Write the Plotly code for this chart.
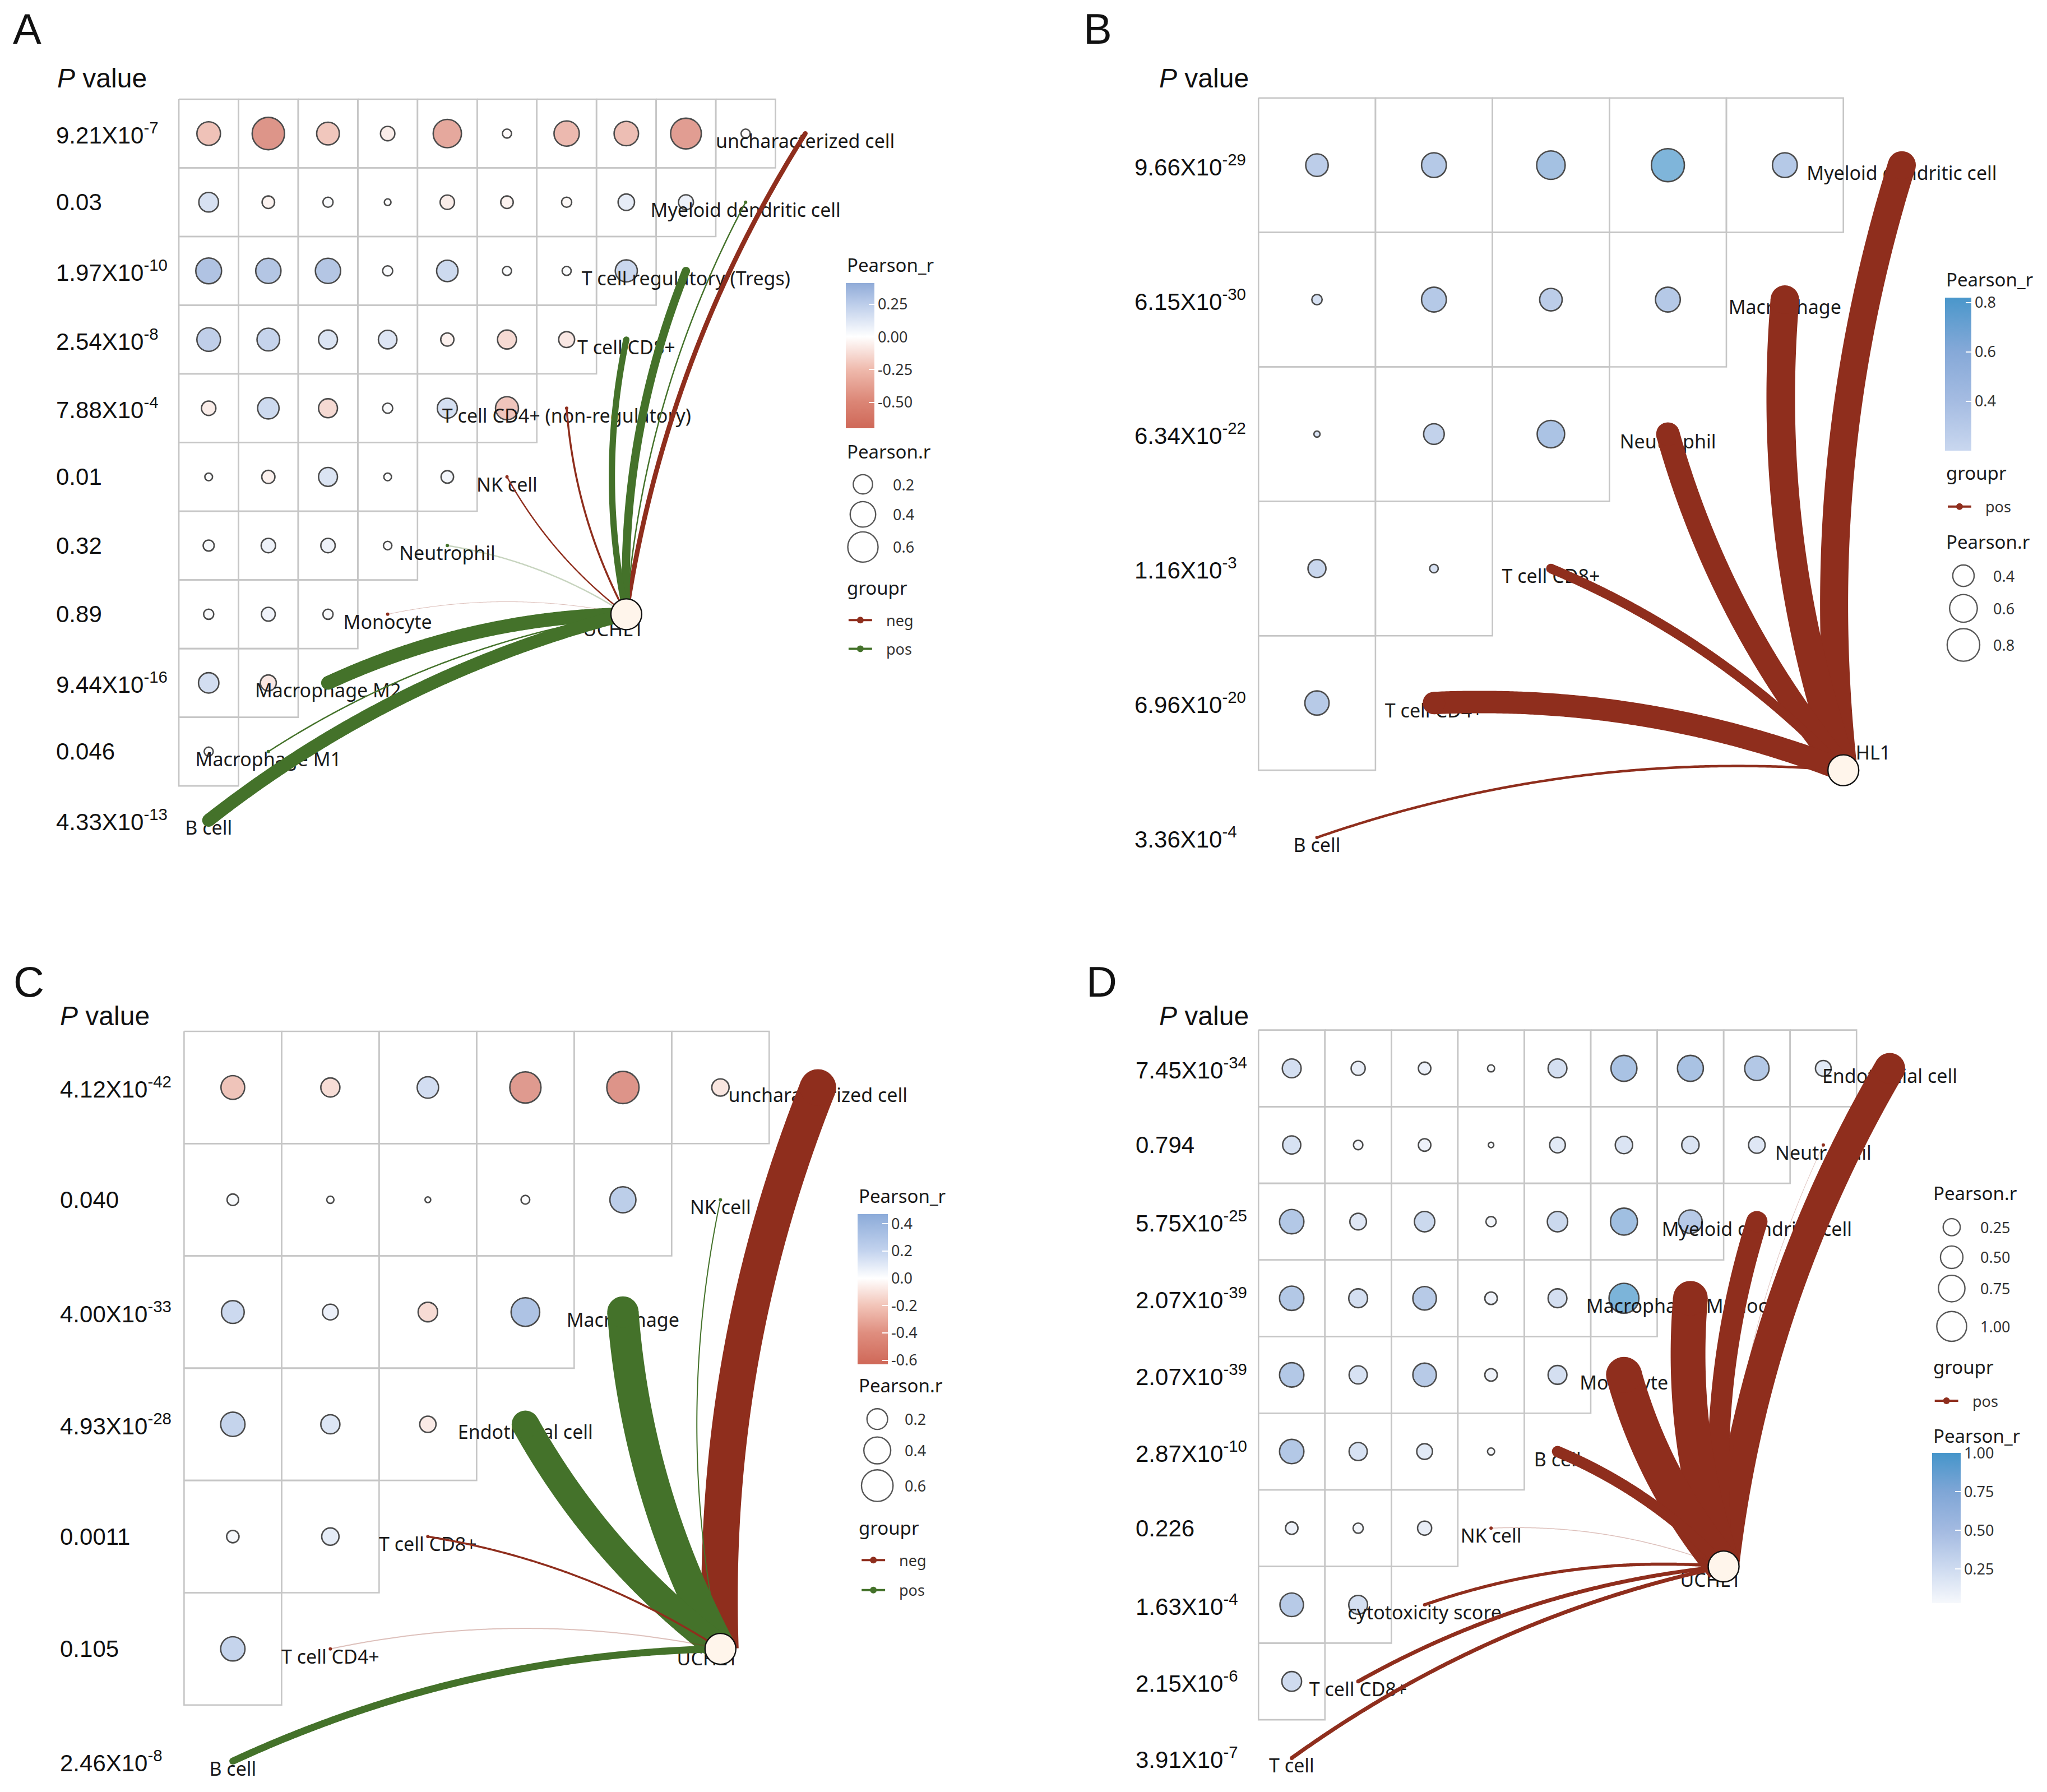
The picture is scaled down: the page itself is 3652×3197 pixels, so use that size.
import numpy as np
import plotly.graph_objects as go

# ======================= DATA =======================
# Panel A
A_cells = ["uncharacterized cell", "Myeloid dendritic cell", "T cell regulatory (Tregs)", "T cell CD8+",
           "T cell CD4+ (non-regulatory)", "NK cell", "Neutrophil", "Monocyte", "Macrophage M2",
           "Macrophage M1", "B cell"]
A_pvalues = ["9.21X10^-7", "0.03", "1.97X10^-10", "2.54X10^-8", "7.88X10^-4", "0.01", "0.32", "0.89",
             "9.44X10^-16", "0.046", "4.33X10^-13"]
A_link_r = [-0.12, 0.035, 0.21, 0.16, -0.05, -0.035, 0.035, -0.015, 0.35, 0.035, 0.33]
A_corr = [
    [-0.33, -0.70, -0.30, -0.09, -0.51, -0.02, -0.39, -0.36, -0.62, -0.02],
    [0.21, -0.06, 0.03, 0.005, -0.09, -0.06, -0.03, 0.13, 0.10],
    [0.41, 0.39, 0.39, 0.03, 0.26, 0.02, 0.02, 0.28],
    [0.33, 0.30, 0.19, 0.18, -0.07, -0.19, -0.12],
    [-0.09, 0.26, -0.19, 0.03, 0.22, -0.31],
    [0.01, -0.07, 0.19, 0.01, 0.06],
    [0.04, 0.09, 0.09, 0.015],
    [0.03, 0.08, 0.03],
    [0.23, -0.12],
    [0.02],
]
A_size_breaks = [0.2, 0.4, 0.6]
A_size_labels = ["0.2", "0.4", "0.6"]
A_cbar_ticks = [-0.5, -0.25, 0.0, 0.25]
A_cbar_labels = ["-0.50", "-0.25", "0.00", "0.25"]

# Panel B
B_cells = ["Myeloid dendritic cell", "Macrophage", "Neutrophil", "T cell CD8+", "T cell CD4+", "B cell"]
B_pvalues = ["9.66X10^-29", "6.15X10^-30", "6.34X10^-22", "1.16X10^-3", "6.96X10^-20", "3.36X10^-4"]
B_link_r = [0.50, 0.51, 0.42, 0.17, 0.40, 0.045]
B_corr = [
    [0.43, 0.50, 0.63, 0.82, 0.50],
    [0.215, 0.50, 0.43, 0.50],
    [0.20, 0.38, 0.59],
    [0.32, 0.205],
    [0.48],
]
B_size_breaks = [0.4, 0.6, 0.8]
B_size_labels = ["0.4", "0.6", "0.8"]
B_cbar_ticks = [0.4, 0.6, 0.8]
B_cbar_labels = ["0.4", "0.6", "0.8"]

# Panel C
C_cells = ["uncharacterized cell", "NK cell", "Macrophage", "Endothelial cell", "T cell CD8+",
           "T cell CD4+", "B cell"]
C_pvalues = ["4.12X10^-42", "0.040", "4.00X10^-33", "4.93X10^-28", "0.0011", "0.105", "2.46X10^-8"]
C_link_r = [-0.65, 0.02, 0.56, 0.49, -0.035, -0.02, 0.125]
C_corr = [
    [-0.29, -0.16, 0.22, -0.58, -0.63, -0.12],
    [0.03, 0.002, 0.0, 0.008, 0.37],
    [0.26, 0.09, -0.17, 0.47],
    [0.31, 0.16, -0.10],
    [0.04, 0.12],
    [0.31],
]
C_size_breaks = [0.2, 0.4, 0.6]
C_size_labels = ["0.2", "0.4", "0.6"]
C_cbar_ticks = [-0.6, -0.4, -0.2, 0.0, 0.2, 0.4]
C_cbar_labels = ["-0.6", "-0.4", "-0.2", "0.0", "0.2", "0.4"]

# Panel D
D_cells = ["Endothelial cell", "Neutrophil", "Myeloid dendritic cell", "Macrophage/Monocyte", "Monocyte",
           "B cell", "NK cell", "cytotoxicity score", "T cell CD8+", "T cell"]
D_pvalues = ["7.45X10^-34", "0.794", "5.75X10^-25", "2.07X10^-39", "2.07X10^-39", "2.87X10^-10",
             "0.226", "1.63X10^-4", "2.15X10^-6", "3.91X10^-7"]
D_link_r = [0.55, 0.01, 0.38, 0.62, 0.64, 0.20, 0.015, 0.055, 0.07, 0.07]
D_corr = [
    [0.32, 0.15, 0.11, 0.034, 0.32, 0.71, 0.71, 0.61, 0.20],
    [0.29, 0.055, 0.11, 0.03, 0.20, 0.26, 0.26, 0.23],
    [0.61, 0.23, 0.39, 0.066, 0.39, 0.78, 0.56],
    [0.61, 0.32, 0.56, 0.11, 0.32, 1.00],
    [0.61, 0.29, 0.56, 0.11, 0.32],
    [0.61, 0.29, 0.20, 0.034],
    [0.11, 0.066, 0.15],
    [0.56, 0.32],
    [0.36],
]
D_size_breaks = [0.25, 0.50, 0.75, 1.00]
D_size_labels = ["0.25", "0.50", "0.75", "1.00"]
D_cbar_ticks = [0.25, 0.50, 0.75, 1.00]
D_cbar_labels = ["0.25", "0.50", "0.75", "1.00"]

GENE = "UCHL1"
GROUP_LEVELS = ["neg", "pos"]

# ======================= LAYOUT / STYLE =======================
WIN_W, WIN_H = 3652, 3197
OFF = 8                      # default page margin of the html body
FIG_W, FIG_H = WIN_W - 2 * OFF, WIN_H - 2 * OFF
REF_W, REF_H = 1568.0, 1372.0
U = WIN_W / REF_W
RED, GREEN = "#8F2E1D", "#44722A"
GROUP_COLORS = [RED, GREEN]
LABEL_FONT = "Noto Sans"
ARIAL = "Liberation Sans"
GRID_COLOR = "#C6C6C6"

PANELS = [
    dict(cells=A_cells, pvals=A_pvalues, link_r=A_link_r, corr=A_corr,
         size_breaks=A_size_breaks, size_labels=A_size_labels, cbar_ticks=A_cbar_ticks, cbar_labels=A_cbar_labels,
         letter=("A", 21, 21), ptitle=(43, 60), pval_x=42,
         left=137, top=76, cw=45.7, ch=52.6, hub=(7.5, 7.5), hub_lab=(-10, 13),
         xr=(-1, 12.2), yr=(-1, 11.4), size_scale=(0.0, 1.0, 7.7, 67.5), link_k=70,
         stops=[(-0.70, "#CF6858"), (-0.5, "#DB8575"), (-0.25, "#EFBAAD"), (0.0, "#FFFFFF"),
                (0.25, "#BCCDEA"), (0.41, "#90ABD8")],
         cbar=(648, 217, 328, 22),
         titles=[("Pearson_r", 648, 203), ("Pearson.r", 648, 346), ("groupr", 648, 450)],
         size_leg=(661, [371, 394, 419], 683), group_leg=(650, 668, [475, 497], 678)),
    dict(cells=B_cells, pvals=B_pvalues, link_r=B_link_r, corr=B_corr,
         size_breaks=B_size_breaks, size_labels=B_size_labels, cbar_ticks=B_cbar_ticks, cbar_labels=B_cbar_labels,
         letter=("B", 841, 21), ptitle=(887, 60), pval_x=868,
         left=964, top=75, cw=89.6, ch=103, hub=(5.0, 5.0), hub_lab=(13, -12),
         xr=(-1, 6.3), yr=(-0.5, 6.1), size_scale=(0.2, 0.82, 10.9, 58.9), link_k=100,
         stops=[(0.2, "#C9D7EF"), (0.4, "#A5BCE2"), (0.6, "#86A9D8"), (0.82, "#4A97CB")],
         cbar=(1490, 228, 345, 20),
         titles=[("Pearson_r", 1490, 214), ("groupr", 1490, 362), ("Pearson.r", 1490, 415)],
         size_leg=(1504, [441, 466, 494], 1526), group_leg=(1492, 1510, [388], 1520)),
    dict(cells=C_cells, pvals=C_pvalues, link_r=C_link_r, corr=C_corr,
         size_breaks=C_size_breaks, size_labels=C_size_labels, cbar_ticks=C_cbar_ticks, cbar_labels=C_cbar_labels,
         letter=("C", 22, 752), ptitle=(45, 778), pval_x=45,
         left=141, top=790, cw=74.7, ch=86, hub=(5.5, 5.5), hub_lab=(-10, 9),
         xr=(-1, 7.2), yr=(-0.4, 6.7), size_scale=(0.0, 1.0, 10.2, 69.8), link_k=100,
         stops=[(-0.63, "#CF6858"), (-0.4, "#DF8E7F"), (-0.2, "#F2C4B8"), (0.0, "#FFFFFF"),
                (0.2, "#C3D3EE"), (0.47, "#8CABD9")],
         cbar=(657, 930, 1045, 23),
         titles=[("Pearson_r", 657, 916), ("Pearson.r", 657, 1061), ("groupr", 657, 1170)],
         size_leg=(672, [1087, 1111, 1138], 692), group_leg=(660, 678, [1195, 1218], 688)),
    dict(cells=D_cells, pvals=D_pvalues, link_r=D_link_r, corr=D_corr,
         size_breaks=D_size_breaks, size_labels=D_size_labels, cbar_ticks=D_cbar_ticks, cbar_labels=D_cbar_labels,
         letter=("D", 844, 752), ptitle=(887, 778), pval_x=869,
         left=964, top=789, cw=50.9, ch=58.7, hub=(7.0, 7.0), hub_lab=(-10, 12),
         xr=(-1, 10.5), yr=(-0.4, 9.85), size_scale=(0.03, 1.0, 9.8, 53.3), link_k=100,
         stops=[(0.03, "#F6F8FC"), (0.25, "#CEDBF0"), (0.5, "#A3BAE1"), (0.75, "#7FA6D6"), (1.0, "#4595CA")],
         cbar=(1480, 1113, 1228, 22),
         titles=[("Pearson.r", 1480, 914), ("groupr", 1480, 1047), ("Pearson_r", 1480, 1100)],
         size_leg=(1495, [940, 963, 987, 1016], 1516), group_leg=(1482, 1500, [1073], 1510)),
]
LABEL_DROP = 7.5   # node labels sit slightly below their node (reference units)


# ======================= HELPERS =======================
def hex_rgb(h):
    h = h.lstrip("#")
    return np.array([int(h[i:i + 2], 16) for i in (0, 2, 4)], dtype=float)


def interp_color(stops, v):
    vals = [s[0] for s in stops]
    cols = np.array([hex_rgb(s[1]) for s in stops])
    rgb = [np.interp(v, vals, cols[:, c]) for c in range(3)]
    return "rgb(%d,%d,%d)" % tuple(int(round(x)) for x in rgb)


def build_colorscale(stops, cmin, cmax):
    pts = [cmin] + [s[0] for s in stops if cmin < s[0] < cmax] + [cmax]
    return [[(p - cmin) / (cmax - cmin), interp_color(stops, p)] for p in pts]


def diam(r, sc):
    rmin, rmax, dmin, dmax = sc
    t = np.clip((abs(r) - rmin) / (rmax - rmin), 0, 1)
    return float(dmin + (dmax - dmin) * np.sqrt(t))


def rgba(hexc, a):
    r, g, b = hex_rgb(hexc)
    return "rgba(%d,%d,%d,%.3f)" % (r, g, b, a)


def parse_p(s):
    if "X10^" in s:
        m, e = s.split("X10^")
        return float(m) * 10 ** float(e), "%sX10<sup>%s</sup>" % (m, e)
    return float(s), s


def curve(p0, p1, cwp, chp, k=0.105, n=200):
    P0 = np.array([p0[0] * cwp, p0[1] * chp])
    P1 = np.array([p1[0] * cwp, p1[1] * chp])
    d = P1 - P0
    L = np.hypot(*d)
    nrm = np.array([d[1], -d[0]]) / L
    if nrm @ np.array([-1.0, -1.0]) < 0:
        nrm = -nrm
    C = (P0 + P1) / 2 + k * L * nrm
    t = np.linspace(0, 1, n)[:, None]
    pts = (1 - t) ** 2 * P0 + 2 * t * (1 - t) * C + t ** 2 * P1
    return (pts[:, 0] / cwp).tolist(), (pts[:, 1] / chp).tolist()


def px(x):
    return min(1.0, max(0.0, (x * U - OFF) / FIG_W))


def py(y):
    return min(1.0, max(0.0, 1 - (y * U - OFF) / FIG_H))


# ======================= BUILD =======================
fig = go.Figure()
layout = dict(width=FIG_W, height=FIG_H, autosize=False, margin=dict(l=0, r=0, t=0, b=0),
              paper_bgcolor="white", plot_bgcolor="rgba(0,0,0,0)", showlegend=False)
annotations = []

for k, P in enumerate(PANELS, start=1):
    xa = "x" if k == 1 else "x%d" % k
    ya = "y" if k == 1 else "y%d" % k
    xkey = "xaxis" if k == 1 else "xaxis%d" % k
    ykey = "yaxis" if k == 1 else "yaxis%d" % k
    cakey = "coloraxis" if k == 1 else "coloraxis%d" % k
    left, top, cw, ch = P["left"], P["top"], P["cw"], P["ch"]
    cwp, chp = cw * U, ch * U
    x0, x1 = P["xr"]
    y0, y1 = P["yr"]
    layout[xkey] = dict(domain=[px(left + x0 * cw), px(left + x1 * cw)], range=[x0, x1],
                        visible=False, fixedrange=True, anchor=ya)
    layout[ykey] = dict(domain=[py(top + y1 * ch), py(top + y0 * ch)], range=[y1, y0],
                        visible=False, fixedrange=True, anchor=xa)

    cells = P["cells"]
    n = len(cells)
    corr = P["corr"]

    # grid
    gx, gy = [], []
    for i in range(n - 1):
        for j in range(n - 1 - i):
            gx += [j, j + 1, j + 1, j, j, None]
            gy += [i, i, i + 1, i + 1, i, None]
    fig.add_trace(go.Scatter(x=gx, y=gy, mode="lines", line=dict(color=GRID_COLOR, width=2.6),
                             xaxis=xa, yaxis=ya, hoverinfo="skip"))

    # circles
    cx, cy, cv = [], [], []
    for i, row in enumerate(corr):
        for j, r in enumerate(row):
            cx.append(j + 0.5)
            cy.append(i + 0.5)
            cv.append(r)
    cmin, cmax = min(cv), max(cv)
    fig.add_trace(go.Scatter(x=cx, y=cy, mode="markers",
                             marker=dict(size=[diam(v, P["size_scale"]) for v in cv], color=cv,
                                         coloraxis=cakey, line=dict(color="#000000", width=2.6)),
                             xaxis=xa, yaxis=ya, hoverinfo="skip"))
    bl, bt, bb, bw = P["cbar"]
    layout[cakey] = dict(
        colorscale=build_colorscale(P["stops"], cmin, cmax), cmin=cmin, cmax=cmax,
        colorbar=dict(x=px(bl), xanchor="left", xpad=0, y=py(bt), yanchor="top", ypad=0,
                      len=(bb - bt) * U / FIG_H, lenmode="fraction", thickness=bw * U, thicknessmode="pixels",
                      outlinewidth=0, tickvals=P["cbar_ticks"], ticktext=P["cbar_labels"],
                      ticks="inside", ticklen=10, tickwidth=2, tickcolor="white",
                      tickfont=dict(family=LABEL_FONT, size=27, color="#333333")))

    # node labels
    nodes = [(n - 1 - i + 0.5, i + 0.5) for i in range(n)]
    fig.add_trace(go.Scatter(x=[p[0] for p in nodes], y=[p[1] + LABEL_DROP * U / chp for p in nodes],
                             mode="text", text=cells, textposition="middle center",
                             textfont=dict(family=LABEL_FONT, size=34, color="#1A1A1A"),
                             cliponaxis=False, xaxis=xa, yaxis=ya, hoverinfo="skip"))
    hx, hy = P["hub"]
    dx, dy = P["hub_lab"]
    fig.add_trace(go.Scatter(x=[hx + dx * U / cwp], y=[hy + dy * U / chp], mode="text", text=[GENE],
                             textposition="middle center",
                             textfont=dict(family=LABEL_FONT, size=34, color="#1A1A1A"),
                             cliponaxis=False, xaxis=xa, yaxis=ya, hoverinfo="skip"))

    # links
    signs = ["neg" if r < 0 else "pos" for r in P["link_r"]]
    present = [g for g in GROUP_LEVELS if g in signs]
    gcol = {g: GROUP_COLORS[idx] for idx, g in enumerate(present)}
    for i, r in enumerate(P["link_r"]):
        pnum, _ = parse_p(P["pvals"][i])
        alpha = 1.0 if pnum < 0.05 else 0.3
        w = max(P["link_k"] * abs(r), 1.0)
        col = gcol[signs[i]]
        lx, ly = curve((hx, hy), nodes[i], cwp, chp)
        fig.add_trace(go.Scatter(x=lx, y=ly, mode="lines",
                                 line=dict(color=rgba(col, alpha), width=w, simplify=False),
                                 xaxis=xa, yaxis=ya, hoverinfo="skip"))
        fig.add_trace(go.Scatter(x=[nodes[i][0]], y=[nodes[i][1]], mode="markers",
                                 marker=dict(size=max(w, 6), color=col, line=dict(width=0)),
                                 cliponaxis=False, xaxis=xa, yaxis=ya, hoverinfo="skip"))
    # hub node
    fig.add_trace(go.Scatter(x=[hx], y=[hy], mode="markers",
                             marker=dict(size=55, color="#FFF5EB", line=dict(color="#111111", width=2.4)),
                             cliponaxis=False, xaxis=xa, yaxis=ya, hoverinfo="skip"))

    # p-value labels
    for i, s in enumerate(P["pvals"]):
        _, txt = parse_p(s)
        annotations.append(dict(text=txt, xref="paper", yref=ya, x=px(P["pval_x"]), y=i + 0.5,
                                xanchor="left", yanchor="middle", showarrow=False,
                                font=dict(family=ARIAL, size=42, color="#111111")))
    # panel letter & title
    L_, lx_, ly_ = P["letter"]
    if ly_ < 40:
        annotations.append(dict(text=L_, xref="paper", yref="paper", x=px(lx_), y=1.0,
                                xanchor="center", yanchor="top", showarrow=False, borderpad=0,
                                font=dict(family=ARIAL, size=76, color="#111111")))
    else:
        annotations.append(dict(text=L_, xref="paper", yref="paper", x=px(lx_), y=py(ly_),
                                xanchor="center", yanchor="middle", showarrow=False,
                                font=dict(family=ARIAL, size=76, color="#111111")))
    tx, ty = P["ptitle"]
    annotations.append(dict(text="<i>P</i> value", xref="paper", yref="paper", x=px(tx), y=py(ty),
                            xanchor="left", yanchor="middle", showarrow=False,
                            font=dict(family=ARIAL, size=48, color="#111111")))
    # legend titles
    for t, tx, ty in P["titles"]:
        annotations.append(dict(text=t, xref="paper", yref="paper", x=px(tx), y=py(ty),
                                xanchor="left", yanchor="middle", showarrow=False,
                                font=dict(family=LABEL_FONT, size=33, color="#1A1A1A")))
    # size legend
    sx, sys_, slx = P["size_leg"]
    fig.add_trace(go.Scatter(x=[sx] * len(sys_), y=sys_, mode="markers",
                             marker=dict(size=[diam(v, P["size_scale"]) for v in P["size_breaks"]],
                                         color="rgba(255,255,255,0)", line=dict(color="#111111", width=2.4)),
                             xaxis="x5", yaxis="y5", hoverinfo="skip"))
    for lab, yy in zip(P["size_labels"], sys_):
        annotations.append(dict(text=lab, xref="paper", yref="paper", x=px(slx), y=py(yy),
                                xanchor="left", yanchor="middle", showarrow=False,
                                font=dict(family=LABEL_FONT, size=27, color="#333333")))
    # group legend
    gx0, gx1, gys, glx = P["group_leg"]
    for g, yy in zip(present, gys):
        fig.add_trace(go.Scatter(x=[gx0, gx1], y=[yy, yy], mode="lines",
                                 line=dict(color=gcol[g], width=4),
                                 xaxis="x5", yaxis="y5", hoverinfo="skip"))
        fig.add_trace(go.Scatter(x=[(gx0 + gx1) / 2], y=[yy], mode="markers",
                                 marker=dict(size=12, color=gcol[g]),
                                 xaxis="x5", yaxis="y5", hoverinfo="skip"))
        annotations.append(dict(text=g, xref="paper", yref="paper", x=px(glx), y=py(yy),
                                xanchor="left", yanchor="middle", showarrow=False,
                                font=dict(family=LABEL_FONT, size=27, color="#333333")))

# overlay axes in reference units for the hand-placed legend keys
layout["xaxis5"] = dict(domain=[0, 1], range=[OFF / U, OFF / U + FIG_W / U], visible=False,
                        fixedrange=True, anchor="y5")
layout["yaxis5"] = dict(domain=[0, 1], range=[OFF / U + FIG_H / U, OFF / U], visible=False,
                        fixedrange=True, anchor="x5")
layout["annotations"] = annotations
fig.update_layout(**layout)
fig.write_html("out.html")
